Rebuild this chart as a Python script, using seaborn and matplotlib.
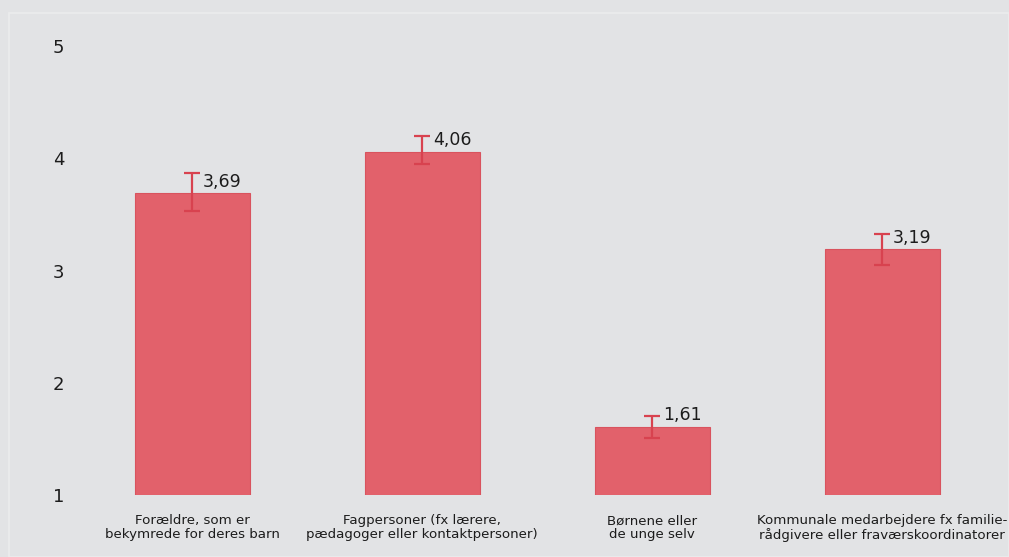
import numpy as np
import pandas as pd
import matplotlib
matplotlib.use('Agg')
import matplotlib.pyplot as plt
import seaborn as sns

# Data
categories = [
    'Forældre, som er\nbekymrede for deres barn',
    'Fagpersoner (fx lærere,\npædagoger eller kontaktpersoner)',
    'Børnene eller\nde unge selv',
    'Kommunale medarbejdere fx familie-\nrådgivere eller fraværskoordinatorer',
]
means = [3.69, 4.06, 1.61, 3.19]
err_low = [3.53, 3.95, 1.51, 3.05]
err_high = [3.87, 4.20, 1.70, 3.33]
value_labels = ['3,69', '4,06', '1,61', '3,19']

bg = '#e2e3e5'
bar_color = '#e2616b'
err_color = '#d8424f'
text_color = '#1c1c1c'

sns.set_theme(style='white')
plt.rcParams['font.family'] = ['DejaVu Sans']

fig = plt.figure(figsize=(10.09, 5.57), dpi=100, facecolor=bg)
# faint inner frame like the reference
fig.patches.append(plt.Rectangle((9 / 1009, 0), 1 - 9 / 1009, 1 - 13 / 557,
                                 transform=fig.transFigure, fill=False,
                                 edgecolor='#ebeced', linewidth=1.2))
ax = fig.add_axes([77 / 1009, 1 - 495 / 557, 920 / 1009, (495 - 20) / 557])
ax.set_facecolor(bg)

df = pd.DataFrame({'category': categories, 'mean': means})
sns.barplot(data=df, x='category', y='mean', ax=ax, color=bar_color,
            saturation=1, width=0.5, edgecolor='#d9535e', linewidth=0.8)

x = np.arange(len(categories))
m = np.array(means)
yerr = np.vstack([m - np.array(err_low), np.array(err_high) - m])
ax.errorbar(x, m, yerr=yerr, fmt='none', ecolor=err_color, elinewidth=1.6,
            capsize=5.5, capthick=1.6, zorder=5)

for i, (v, lab) in enumerate(zip(means, value_labels)):
    ax.text(i + 0.048, v + 0.02, lab, ha='left', va='bottom', fontsize=12.5,
            color=text_color)

ax.set_xlim(-0.5, 3.5)
ax.set_ylim(1, 1 + 475 / 112.2)
ax.set_yticks([1, 2, 3, 4, 5])
ax.set_yticklabels(['1', '2', '3', '4', '5'], fontsize=13, color=text_color)
ax.set_xticks(x)
ax.set_xticklabels(categories, fontsize=9.6, color=text_color,
                   linespacing=1.05)
ax.tick_params(axis='both', length=0)
ax.tick_params(axis='y', pad=9)
ax.tick_params(axis='x', pad=14)
ax.set_xlabel('')
ax.set_ylabel('')
for s in ax.spines.values():
    s.set_visible(False)

fig.savefig('out.png', dpi=100, facecolor=bg)
